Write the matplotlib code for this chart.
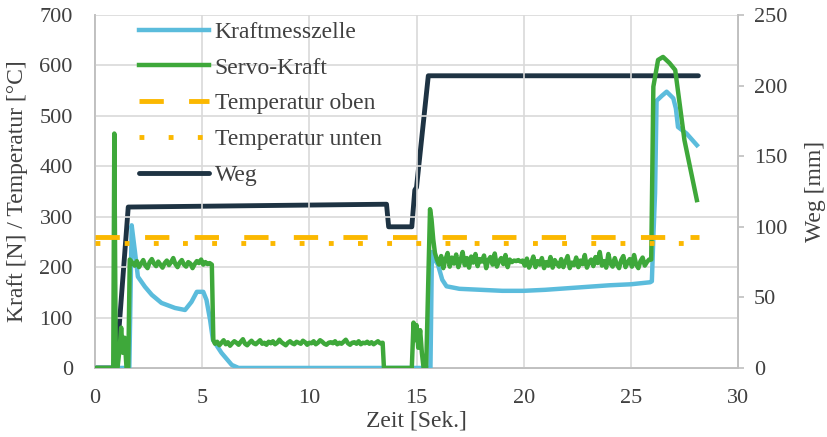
import numpy as np
import matplotlib
matplotlib.use("Agg")
import matplotlib.pyplot as plt

# ---------------- data ----------------
# Servo-Kraft (N)
servo_t_start = [0.0, 0.85, 0.9, 0.97, 1.05, 1.15, 1.22, 1.3, 1.38, 1.47, 1.55, 1.62, 1.68]
servo_v_start = [0, 0, 465, 0, 0, 40, 80, 30, 60, 0, 0, 215, 212]
servo_plateau1_t0 = 1.75          # sampled every 0.1 s
servo_plateau1 = [208, 203, 212, 200, 207, 214, 203, 198, 210, 216, 207, 202, 211, 205, 199,
                  208, 213, 204, 210, 218, 206, 200, 209, 214, 205, 201, 210, 207, 198, 206,
                  212, 208, 215, 205, 210, 206, 208]
servo_t_mid1 = [5.45, 5.52]
servo_v_mid1 = [205, 55]
servo_plateau2_t0 = 5.6           # sampled every 0.1 s
servo_plateau2 = [48, 52, 45, 50, 55, 47, 51, 44, 49, 53, 50, 46, 52, 57, 48, 45, 50, 54, 49, 47,
                  51, 55, 48, 50, 46, 52, 49, 53, 47, 50, 56, 51, 48, 45, 50, 53, 49, 47, 52, 50,
                  48, 54, 51, 46, 50, 49, 53, 47, 50, 55, 52, 48, 46, 50, 51, 49, 53, 47, 50, 48,
                  52, 56, 49, 46, 50, 51, 48, 53, 47, 50, 49, 52, 48, 51, 47, 50, 53, 49, 50]
servo_t_mid2 = [13.42, 13.48, 14.78, 14.86, 14.92, 15.0, 15.08, 15.17, 15.25, 15.33, 15.45,
                15.55, 15.63, 15.7, 15.78, 15.86, 15.95]
servo_v_mid2 = [50, 0, 0, 90, 55, 85, 40, 75, 30, 0, 0, 180, 315, 295, 255, 228, 215]
servo_plateau3_t0 = 16.05         # sampled every 0.1 s
servo_plateau3 = [205, 222, 198, 215, 228, 201, 219, 207, 225, 200, 213, 230, 204, 218, 199,
                  221, 209, 226, 202, 216, 211, 223, 198, 214, 220, 205, 227, 201, 212, 218,
                  206, 224, 200, 215, 210, 213, 212, 214, 211, 213, 203, 217, 199, 208, 221,
                  200, 212, 205, 218, 198, 210, 203, 220, 199, 214, 207, 201, 216, 200, 211,
                  222, 198, 209, 204, 219, 200, 213, 206, 224, 199, 210, 215, 202, 220, 208,
                  230, 203, 212, 199, 226, 207, 201, 218, 205, 198, 214, 222, 200, 209, 216,
                  201, 224, 205, 198, 212, 219, 203, 210, 215]
servo_t_end = [25.95, 26.05, 26.27, 26.5, 26.8, 27.07, 27.5, 28.08]
servo_v_end = [215, 558, 611, 617, 605, 591, 452, 333]

# Kraftmesszelle (N)
kms_t = [0.0, 1.5, 1.6, 1.71, 1.87, 2.0, 2.33, 2.65, 3.1, 3.73, 4.2, 4.5, 4.75, 5.05, 5.2,
         5.37, 5.5, 5.9, 6.38, 6.7, 15.65, 15.72, 15.85, 16.0, 16.2, 16.4, 17.0, 18.0, 19.0,
         20.0, 21.0, 22.0, 23.0, 24.0, 25.0, 25.9, 25.98, 26.05, 26.13, 26.2, 26.45, 26.67,
         26.98, 27.1, 27.2, 27.6, 28.08]
kms_v = [0, 0, 0, 283, 228, 181, 161, 145, 129, 119, 115, 131, 151, 151, 135,
         95, 56, 30, 6, 0, 0, 230, 215, 205, 175, 162, 157, 155, 153,
         153, 155, 158, 161, 164, 166, 170, 172, 260, 347, 530, 540, 548,
         535, 515, 478, 465, 442]

# Weg (mm)
weg_t = [0.0, 0.98, 1.55, 13.6, 13.7, 14.78, 14.92, 15.0, 15.55, 28.15]
weg_v = [0, 0, 114, 116, 100, 100, 126, 128, 207, 207]

# Temperaturen (°C)
temp_t = [0.0, 28.2]
temp_oben = [260, 260]
temp_unten = [248, 248]

# ---------------- assemble ----------------
servo_t = (servo_t_start
           + list(servo_plateau1_t0 + 0.1 * np.arange(len(servo_plateau1)))
           + servo_t_mid1
           + list(servo_plateau2_t0 + 0.1 * np.arange(len(servo_plateau2)))
           + servo_t_mid2
           + list(servo_plateau3_t0 + 0.1 * np.arange(len(servo_plateau3)))
           + servo_t_end)
servo_v = (servo_v_start + servo_plateau1 + servo_v_mid1 + servo_plateau2
           + servo_v_mid2 + servo_plateau3 + servo_v_end)

# ---------------- style ----------------
plt.rcParams['font.family'] = ['Liberation Serif', 'DejaVu Serif']
plt.rcParams['font.size'] = 16
txt = '#404040'
gridc = '#d9d9d9'
spinec = '#bfbfbf'

c_blue = '#5bbcdc'
c_green = '#3ea83a'
c_orange = '#fbb800'
c_navy = '#1e3343'

fig = plt.figure(figsize=(8.27, 4.37), dpi=100)
ax = fig.add_axes([0.1149, 0.158, 0.7775, 0.8075])
ax2 = ax.twinx()

lw = 3.2
l1, = ax.plot(kms_t, kms_v, color=c_blue, lw=lw, label='Kraftmesszelle', zorder=3)
l2, = ax.plot(servo_t, servo_v, color=c_green, lw=lw, label='Servo-Kraft', zorder=4)
l3, = ax.plot(temp_t, temp_oben, color=c_orange, lw=3.5, linestyle=(0, (5, 5.2)),
              label='Temperatur oben', zorder=5, solid_capstyle='butt', dash_capstyle='butt')
l4, = ax.plot(temp_t, temp_unten, color=c_orange, lw=3.5, linestyle=(0, (1, 5)),
              label='Temperatur unten', zorder=5, dash_capstyle='butt')
l5, = ax2.plot(weg_t, weg_v, color=c_navy, lw=3.5, label='Weg', zorder=6,
               solid_joinstyle='round', solid_capstyle='round')

ax.set_xlim(0, 30)
ax.set_ylim(0, 700)
ax2.set_ylim(0, 250)
ax.set_xticks(np.arange(0, 31, 5))
ax.set_yticks(np.arange(0, 701, 100))
ax2.set_yticks(np.arange(0, 251, 50))

ax.grid(True, color=gridc, lw=1.2)
ax.set_axisbelow(True)

for a in (ax, ax2):
    for s in a.spines.values():
        s.set_color(spinec)
        s.set_linewidth(1.2)
ax.spines['top'].set_visible(False)
ax2.spines['top'].set_visible(False)

ax.tick_params(axis='x', length=0, colors=txt, labelsize=16, pad=15)
ax.tick_params(axis='y', length=0, colors=txt, labelsize=16, pad=16)
ax2.tick_params(axis='y', length=4, color=spinec, width=1.2, labelcolor=txt, labelsize=16, pad=7.5)

ax.set_xlabel('Zeit [Sek.]', color=txt, fontsize=17, labelpad=2)
ax.set_ylabel('Kraft [N] / Temperatur [°C]', color=txt, fontsize=17, labelpad=8)
ax2.set_ylabel('Weg [mm]', color=txt, fontsize=17, labelpad=13)

ax.set_zorder(ax2.get_zorder() + 1)
ax.patch.set_visible(False)
ax2.set_zorder(0)

leg = ax.legend(handles=[l1, l2, l3, l4, l5], loc='upper left', frameon=False,
                bbox_to_anchor=(0.053, 1.0085), handlelength=2.97, handletextpad=0.25,
                labelspacing=0.6, fontsize=17, borderaxespad=0)
for t in leg.get_texts():
    t.set_color(txt)

fig.savefig('out.png', dpi=100)
